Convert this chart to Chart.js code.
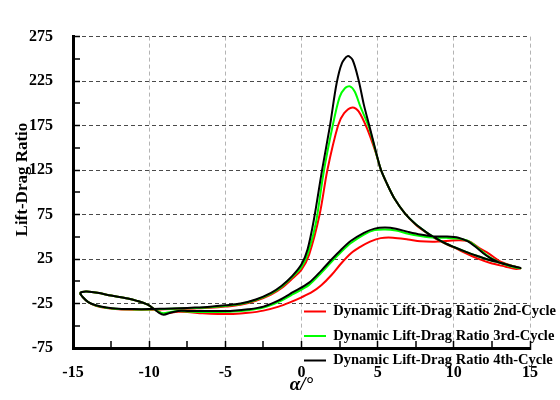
<!DOCTYPE html>
<html>
<head>
<meta charset="utf-8">
<script src="https://cdn.jsdelivr.net/npm/chart.js@4.4.0/dist/chart.umd.min.js"></script>
<style>
  html, body { margin: 0; padding: 0; background: #fff; }
</style>
</head>
<body>
<canvas id="ldChart" width="560" height="400"></canvas>
<script>
// tick positions (majors carry labels, the rest are minor ticks)
const xTicks = [-15, -12.5, -10, -7.5, -5, -2.5, 0, 2.5, 5, 7.5, 10, 12.5, 15];
const yTicks = [-75, -50, -25, 0, 25, 50, 75, 100, 125, 150, 175, 200, 225, 250, 275];
const xLabels = [-15, -10, -5, 0, 5, 10, 15];
const yLabels = [-75, -25, 25, 75, 125, 175, 225, 275];

const seriesNames = [
  'Dynamic Lift-Drag Ratio 2nd-Cycle',
  'Dynamic Lift-Drag Ratio 3rd-Cycle',
  'Dynamic Lift-Drag Ratio 4th-Cycle'
];

// 2nd cycle (red)
const aoa2 = [-14.55, -14.35, -14.0, -13.5, -12.8, -12.0, -11.0, -10.0, -9.0, -8.0, -7.0, -6.0, -5.0, -4.0, -3.0, -2.0, -1.3, -0.6, 0.0, 0.5, 1.19, 1.7, 2.4, 2.8, 3.35, 3.75, 4.3, 4.85, 5.2, 5.6, 6.1, 6.8, 7.5, 8.2, 8.75, 9.4, 10.0, 10.8, 11.5, 12.4, 13.4, 14.0, 14.37,
  13.6, 13.0, 12.3, 11.7, 11.2, 10.9, 10.3, 9.5, 8.75, 7.8, 7.0, 6.0, 5.2, 4.5, 3.8, 3.25, 2.6, 1.97, 1.3, 0.7, 0.0, -0.8, -1.5, -2.5, -3.5, -4.5, -5.5, -6.5, -7.5, -8.1, -8.6, -9.05, -9.35, -9.65, -10.1, -10.8, -11.4, -12.5, -13.4, -14.1, -14.4, -14.55];
const ld2 = [-13.3, -18, -23.5, -27.5, -30, -31.5, -32, -32, -31.5, -31, -30.5, -29.8, -28.5, -26.5, -22, -15, -7.5, 3, 13, 30, 75, 125, 175, 189, 195.4, 191, 172, 146, 126, 110, 93, 76, 63.5, 54.5, 48.5, 42.5, 38, 31.5, 26, 20.5, 16.4, 14, 14.5,
  18.5, 22.7, 31, 37, 43, 45.5, 46, 45.3, 44.5, 45, 47, 49, 48.5, 44.5, 38, 31.5, 20, 7, -4.5, -12, -18, -24, -28.5, -33, -35.5, -36.8, -36.8, -36, -34.5, -34.3, -35.3, -36.5, -34.5, -31.5, -26.3, -22, -19.3, -16, -13, -11.6, -12, -13.3];

// 3rd cycle (green)
const aoa3 = [-14.55, -14.35, -14.0, -13.5, -12.8, -12.0, -11.0, -10.0, -9.0, -8.0, -7.0, -6.0, -5.0, -4.0, -3.0, -2.0, -1.3, -0.6, 0.0, 0.45, 0.95, 1.45, 2.05, 2.5, 2.85, 3.18, 3.5, 3.85, 4.45, 4.85, 5.2, 5.6, 6.1, 6.8, 7.5, 8.2, 8.75, 9.4, 10.0, 10.8, 11.5, 12.4, 13.4, 14.0, 14.37,
  13.6, 13.0, 12.4, 11.93, 11.4, 10.9, 10.3, 9.5, 8.75, 7.8, 7.0, 6.2, 5.5, 4.8, 4.1, 3.25, 2.6, 1.97, 1.3, 0.5, -0.56, -1.5, -2.5, -3.5, -4.5, -5.5, -6.5, -7.5, -8.1, -8.6, -9.05, -9.35, -9.65, -10.1, -10.8, -11.4, -12.5, -13.4, -14.1, -14.4, -14.55];
const ld3 = [-13.3, -18, -23.5, -27.2, -29.8, -31.2, -31.6, -31.6, -31.1, -30.6, -30, -29.1, -27.7, -25.5, -21, -13.8, -6, 5, 16, 33, 66, 122, 175, 207, 217, 219, 213, 197, 172, 147, 126, 110, 93, 76, 64, 55, 49, 43, 38.5, 33, 28.7, 23.5, 19.3, 16.5, 14.5,
  17.5, 21, 26.5, 32.5, 40, 45.5, 48, 48.8, 49, 51, 53.5, 57, 58.3, 57.5, 52.5, 43, 33, 22, 9.5, -4, -14.5, -23, -29.5, -32.5, -34, -34.5, -34.5, -34, -33.5, -34.5, -36, -34.5, -31.5, -26.3, -22, -19.3, -16, -13, -11.6, -12, -13.3];

// 4th cycle (black)
const aoa4 = [-14.55, -14.35, -14.0, -13.5, -12.8, -12.0, -11.0, -10.0, -9.0, -8.0, -7.0, -6.0, -5.0, -4.0, -3.0, -2.0, -1.3, -0.6, 0.0, 0.4, 0.8, 1.35, 1.87, 2.3, 2.65, 3.03, 3.35, 3.75, 4.1, 4.45, 4.85, 5.2, 5.6, 6.1, 6.8, 7.5, 8.2, 8.75, 9.4, 10.0, 10.8, 11.5, 12.4, 13.4, 14.0, 14.37,
  13.6, 13.0, 12.4, 11.93, 11.4, 10.9, 10.3, 9.5, 8.75, 7.8, 7.0, 6.2, 5.5, 4.8, 4.1, 3.25, 2.6, 1.97, 1.3, 0.5, -0.56, -1.5, -2.5, -3.5, -4.5, -5.5, -6.5, -7.5, -8.1, -8.6, -9.05, -9.35, -9.65, -10.1, -10.8, -11.4, -12.5, -13.4, -14.1, -14.4, -14.55];
const ld4 = [-13.3, -18, -23.5, -27, -29.5, -30.8, -31.3, -31.3, -30.8, -30.3, -29.6, -28.6, -27, -25, -20.5, -13, -5, 6, 19, 36, 68, 125, 175, 222, 245, 253, 249, 226, 198, 175, 148, 126, 110, 93, 76, 64, 55, 49, 43, 38.5, 33, 28.7, 23.5, 19.3, 16.5, 15,
  18, 21, 26, 31.5, 39, 45, 49, 50.3, 50.3, 52.5, 55.5, 59, 60.3, 59.2, 54.5, 45.5, 35.5, 24.5, 12, -1.5, -12.3, -21.5, -28.5, -31.5, -33, -33.5, -33.5, -33.3, -33.3, -35.3, -37.5, -35.5, -31.5, -26.3, -22, -19.3, -16, -13, -11.6, -12, -13.3];

const seriesColors = ['#ff0000', '#00ff00', '#000000'];

function toPoints(xs, ys) {
  return xs.map((x, i) => ({ x: x, y: ys[i] }));
}

const loops = [toPoints(aoa2, ld2), toPoints(aoa3, ld3), toPoints(aoa4, ld4)];

const serif = "'Liberation Serif', 'Times New Roman', serif";

// put the legend in the lower right corner of the plot
const legendSpot = {
  id: 'legendSpot',
  afterLayout(chart) {
    const lg = chart.legend;
    lg.left = 294;
    lg.top = 272;
    lg.right = 560;
    lg.bottom = 400;
    lg.width = 266;
    lg.height = 128;
  }
};

const ctx = document.getElementById('ldChart').getContext('2d');

const ldChart = new Chart(ctx, {
  type: 'scatter',
  data: {
    datasets: loops.map((pts, i) => ({
      label: seriesNames[i],
      data: pts,
      showLine: true,
      borderColor: seriesColors[i],
      backgroundColor: seriesColors[i],
      borderWidth: 2,
      pointRadius: 0,
      pointHoverRadius: 0,
      pointBorderWidth: 2,
      tension: 0.3,
      fill: false,
      order: 3 - i
    }))
  },
  options: {
    responsive: false,
    animation: false,
    devicePixelRatio: 1,
    layout: {
      padding: { top: 15, right: 15, bottom: 0, left: 0 }
    },
    plugins: {
      tooltip: { enabled: false },
      legend: {
        position: 'chartArea',
        labels: {
          usePointStyle: true,
          pointStyle: 'line',
          pointStyleWidth: 22,
          padding: 10,
          color: '#000',
          font: { family: serif, size: 14.5, weight: 'bold' },
          sort: (a, b) => a.datasetIndex - b.datasetIndex
        }
      }
    },
    scales: {
      x: {
        type: 'linear',
        min: -15,
        max: 15,
        afterBuildTicks: (s) => { s.ticks = xTicks.map(v => ({ value: v })); },
        afterFit: (s) => { s.height = 52; },
        ticks: {
          padding: 22,
          color: '#000',
          font: { family: serif, size: 16, weight: 'bold' },
          callback: (v) => xLabels.includes(v) ? String(v) : ''
        },
        grid: {
          color: '#b4b4b4',
          lineWidth: (c) => (c.tick && xLabels.includes(c.tick.value)) ? 1 : 0,
          tickColor: '#000',
          tickWidth: 1.5,
          tickLength: -7
        },
        border: { color: '#000', width: 3, dash: [4, 3] },
        title: {
          display: true,
          text: 'α/°',
          color: '#000',
          font: { family: serif, size: 19, weight: 'bold', style: 'italic' },
          padding: { top: 0, bottom: 4 }
        }
      },
      y: {
        type: 'linear',
        min: -75,
        max: 275,
        afterBuildTicks: (s) => { s.ticks = yTicks.map(v => ({ value: v })); },
        afterFit: (s) => { s.width = 73; },
        ticks: {
          padding: 27,
          color: '#000',
          font: { family: serif, size: 16, weight: 'bold' },
          callback: (v) => yLabels.includes(v) ? String(v) : ''
        },
        grid: {
          color: '#4a4a4a',
          lineWidth: (c) => (c.tick && yLabels.includes(c.tick.value)) ? 1 : 0,
          tickColor: '#000',
          tickWidth: 1.5,
          tickLength: -7
        },
        border: { color: '#000', width: 3, dash: [4, 3] },
        title: {
          display: true,
          // leading spaces nudge the centred title upwards like the original
          text: '      Lift-Drag Ratio',
          color: '#000',
          font: { family: serif, size: 17, weight: 'bold' },
          padding: { top: 12, bottom: 0 }
        }
      }
    }
  },
  plugins: [legendSpot]
});
</script>
</body>
</html>
